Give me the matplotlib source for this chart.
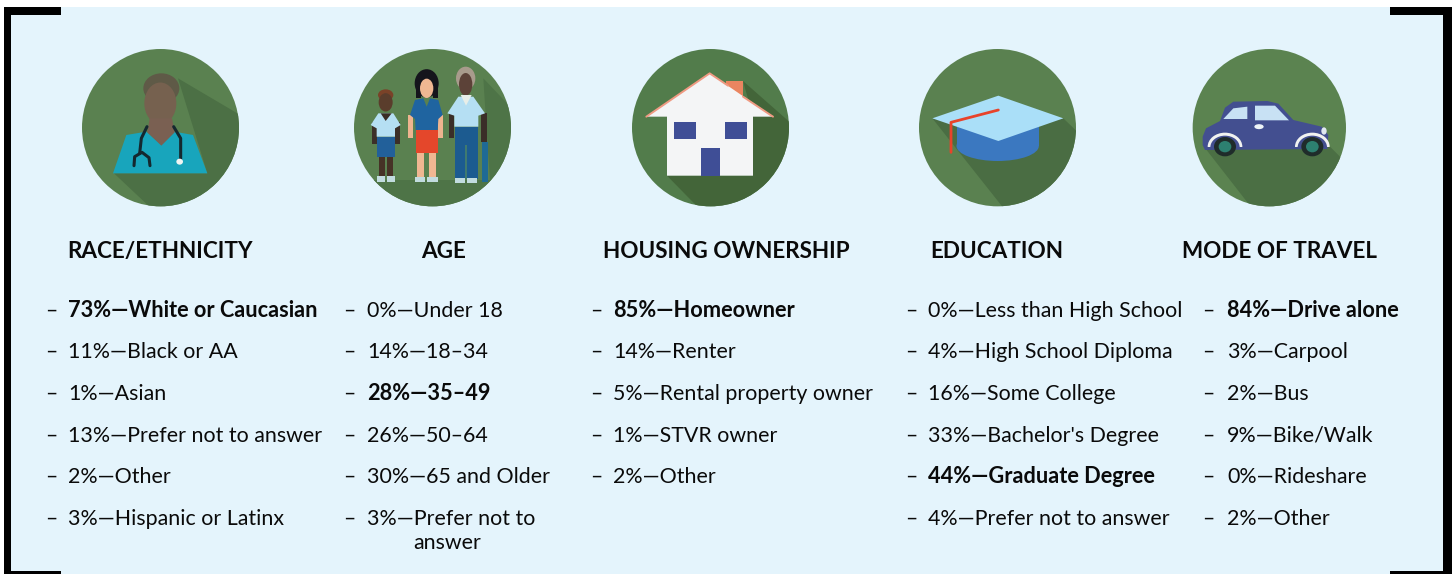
import matplotlib
matplotlib.use("Agg")
import matplotlib.pyplot as plt
from matplotlib.patches import Ellipse, Polygon, Rectangle

plt.rcParams['font.family'] = ['Lato', 'DejaVu Sans']

headings = ["RACE/ETHNICITY", "AGE", "HOUSING OWNERSHIP", "EDUCATION", "MODE OF TRAVEL"]

race = ["73%—White or Caucasian", "11%—Black or AA", "1%—Asian",
        "13%—Prefer not to answer", "2%—Other", "3%—Hispanic or Latinx"]
age = ["0%—Under 18", "14%—18–34", "28%—35–49", "26%—50–64", "30%—65 and Older",
       "3%—Prefer not to"]
housing = ["85%—Homeowner", "14%—Renter", "5%—Rental property owner", "1%—STVR owner", "2%—Other"]
education = ["0%—Less than High School", "4%—High School Diploma", "16%—Some College",
             "33%—Bachelor's Degree", "44%—Graduate Degree", "4%—Prefer not to answer"]
travel = ["84%—Drive alone", "3%—Carpool", "2%—Bus", "9%—Bike/Walk", "0%—Rideshare", "2%—Other"]
columns = [race, age, housing, education, travel]
bold_rows = [0, 2, 0, 4, 0]

heading_x = [160, 444, 726, 997, 1280]
dash_x = [45, 343, 590, 905, 1202]
text_x = [68, 367, 613, 928, 1227]
row_y = [317, 358, 400, 442, 483, 525]

BG = "#e4f4fc"
GREEN = "#5a8150"
SHADOW = "#4b6f44"
INK = "#0a0a0a"


# icons are sketched on a 495x495 grid, one grid per disc
def grid(org, pts):
    return [(org + x / 3, 45 + y / 3) for x, y in pts]


def poly(ax, org, pts, color, z=5):
    p = Polygon(grid(org, pts), fc=color, ec='none', zorder=z)
    ax.add_patch(p)
    return p


def box(ax, org, x0, y0, x1, y1, color, z=5):
    ax.add_patch(Rectangle((org + x0 / 3, 45 + y0 / 3), (x1 - x0) / 3, (y1 - y0) / 3,
                           fc=color, ec='none', zorder=z))


def oval(ax, org, x, y, w, h, color, z=5):
    e = Ellipse((org + x / 3, 45 + y / 3), w / 3, h / 3, fc=color, ec='none', zorder=z)
    ax.add_patch(e)
    return e


def line(ax, org, pts, color, lw, z=6):
    g = grid(org, pts)
    ax.plot([p[0] for p in g], [p[1] for p in g], color=color, lw=lw, zorder=z,
            solid_capstyle='round', solid_joinstyle='round')


def disc(ax, org, shadow, base=GREEN, dark=SHADOW, cx=247.5, w=471):
    c = Ellipse((org + cx / 3, 45 + 248 / 3), w / 3, 472 / 3, fc=base, ec='none', zorder=2)
    ax.add_patch(c)
    poly(ax, org, shadow, dark, z=3).set_clip_path(c)


def nurse(ax, org):
    disc(ax, org, [(300, 100), (495, 215), (495, 495), (225, 495), (108, 385), (388, 385)], base="#5a8150", dark="#4c7045")
    poly(ax, org, [(105, 385), (145, 270), (205, 260), (250, 300), (290, 260), (345, 270), (388, 385)], "#18a5bc")
    oval(ax, org, 250, 130, 108, 90, "#5f5a47")
    oval(ax, org, 247, 175, 96, 125, "#76614f", z=6)
    poly(ax, org, [(215, 220), (282, 220), (290, 262), (250, 302), (208, 262)], "#7a6052", z=6)
    line(ax, org, [(207, 245), (190, 280), (185, 325)], "#14282f", 2.2, z=7)
    line(ax, org, [(168, 362), (170, 335), (192, 322), (213, 338), (216, 362)], "#14282f", 2.2, z=7)
    line(ax, org, [(287, 245), (308, 280), (308, 342)], "#14282f", 2.2, z=7)
    oval(ax, org, 305, 350, 20, 18, "#f1f5f3", z=7)


def family(ax, org):
    disc(ax, org, [(400, 100), (495, 200), (495, 495), (60, 495), (60, 405), (420, 405), (410, 260)], base="#5a8150", dark="#4e7447")
    # child
    oval(ax, org, 107, 150, 46, 34, "#7a4228")
    oval(ax, org, 107, 172, 42, 55, "#5a3d2c", z=6)
    box(ax, org, 66, 230, 80, 298, "#3c2f28")
    box(ax, org, 136, 230, 150, 298, "#3c2f28")
    box(ax, org, 86, 335, 105, 396, "#463226")
    box(ax, org, 112, 335, 130, 396, "#463226")
    poly(ax, org, [(62, 240), (85, 205), (130, 205), (152, 240), (135, 250), (135, 275), (80, 275), (80, 250)], "#b5dff3", z=6)
    poly(ax, org, [(92, 205), (125, 205), (107, 228)], "#3a2c26", z=7)
    box(ax, org, 80, 275, 135, 337, "#22609a", z=6)
    box(ax, org, 80, 394, 106, 410, "#c2dcdf", z=6)
    box(ax, org, 110, 394, 136, 410, "#c2dcdf", z=6)
    # woman
    oval(ax, org, 230, 115, 72, 85, "#15151c")
    box(ax, org, 197, 120, 212, 160, "#15151c")
    box(ax, org, 250, 120, 264, 160, "#15151c")
    oval(ax, org, 230, 130, 40, 58, "#f0b792", z=6)
    box(ax, org, 175, 210, 190, 280, "#eeb48f")
    box(ax, org, 265, 210, 280, 280, "#eeb48f")
    box(ax, org, 200, 320, 222, 397, "#f0b792")
    box(ax, org, 236, 320, 258, 397, "#f0b792")
    poly(ax, org, [(180, 210), (195, 165), (220, 160), (230, 185), (240, 160), (265, 165), (278, 210), (265, 222), (263, 255), (197, 255), (195, 222)],
         "#1f64a0", z=6)
    box(ax, org, 197, 255, 263, 325, "#e4472b", z=6)
    box(ax, org, 195, 395, 225, 412, "#c2dcdf", z=6)
    box(ax, org, 232, 395, 263, 412, "#c2dcdf", z=6)
    # man
    oval(ax, org, 347, 100, 58, 70, "#a89b8c")
    oval(ax, org, 347, 118, 40, 68, "#5c4238", z=6)
    box(ax, org, 392, 205, 410, 290, "#3a2e28")
    box(ax, org, 296, 205, 312, 280, "#3a2e28")
    box(ax, org, 396, 290, 414, 410, "#1f6a95", z=4)
    poly(ax, org, [(292, 205), (325, 155), (370, 155), (405, 205), (385, 212), (385, 245), (313, 245), (313, 212)], "#b5dff3", z=6)
    poly(ax, org, [(332, 150), (365, 150), (348, 182)], "#e8eee8", z=7)
    box(ax, org, 315, 245, 383, 402, "#1c5b90", z=6)
    box(ax, org, 345, 300, 352, 402, "#3f7a70", z=7)
    box(ax, org, 315, 400, 345, 415, "#c2dcdf", z=6)
    box(ax, org, 352, 400, 382, 415, "#c2dcdf", z=6)


def house(ax, org):
    disc(ax, org, [(345, 108), (495, 240), (495, 495), (218, 495), (117, 392), (375, 392), (375, 215)], base="#527c4b", dark="#436539")
    box(ax, org, 295, 108, 345, 175, "#ea8560", z=4)
    poly(ax, org, [(245, 85), (55, 215), (117, 215), (117, 392), (375, 392), (375, 215), (435, 215)], "#f4f5f6")
    line(ax, org, [(55, 215), (245, 85), (300, 122)], "#ef9a82", 1.4)
    line(ax, org, [(345, 155), (435, 215)], "#ef9a82", 1.4)
    box(ax, org, 137, 230, 203, 283, "#3f4e96", z=6)
    box(ax, org, 290, 230, 357, 283, "#3f4e96", z=6)
    box(ax, org, 218, 310, 275, 392, "#3f4e96", z=6)


def cap(ax, org):
    disc(ax, org, [(52, 220), (445, 220), (495, 268), (495, 495), (270, 495)], base="#5a8150", dark="#4a6d43")
    oval(ax, org, 248, 303, 247, 90, "#3b78c0")
    box(ax, org, 125, 225, 372, 303, "#3b78c0")
    poly(ax, org, [(52, 220), (250, 152), (445, 220), (250, 288)], "#aadff8", z=6)
    line(ax, org, [(250, 195), (108, 232), (108, 322)], "#e8432a", 2.0, z=7)


def car(ax, org):
    disc(ax, org, [(38, 300), (415, 300), (495, 380), (495, 495), (190, 495)], base="#5b8350", dark="#4b6f44", cx=238, w=460)
    poly(ax, org, [(38, 300), (38, 275), (48, 250), (90, 228), (105, 188), (130, 170), (232, 168), (265, 176), (310, 225),
                   (395, 245), (415, 270), (412, 312), (45, 315)], "#434f90")
    poly(ax, org, [(100, 222), (130, 190), (172, 185), (172, 222)], "#c8e1f4", z=6)
    poly(ax, org, [(195, 182), (255, 182), (297, 226), (195, 226)], "#c8e1f4", z=6)
    oval(ax, org, 207, 245, 28, 15, "#eef4f8", z=6)
    oval(ax, org, 402, 258, 16, 22, "#dfe8f0", z=6)
    for x in [105, 367]:
        # white arch over the wheel only, cut off at the sill
        ring = oval(ax, org, x, 305, 104, 84, "#f1f2f0", z=6)
        ring.set_clip_path(Rectangle((org + (x - 60) / 3, 45 + 250 / 3), 40, 55 / 3, transform=ax.transData))
        inner = oval(ax, org, x, 307, 88, 70, "#434f90", z=6)
        inner.set_clip_path(Rectangle((org + (x - 60) / 3, 45 + 250 / 3), 40, 55 / 3, transform=ax.transData))
        oval(ax, org, x, 305, 66, 58, "#1f2c2a", z=7)
        oval(ax, org, x, 305, 38, 34, "#2d8070", z=8)


def frame(ax):
    ax.add_patch(Rectangle((3.7, 7), 1439.3, 567, fc=BG, ec='none', zorder=1))
    bars = [(3.7, 7, 7.3, 567), (3.7, 7, 57, 8), (3.7, 570.7, 57, 3.3),
            (1443, 7, 9, 567), (1389.5, 7, 62.5, 8), (1389.5, 570.7, 62.5, 3.3)]
    for x, y, w, h in bars:
        ax.add_patch(Rectangle((x, y), w, h, fc="black", ec='none', zorder=2))


fig = plt.figure(figsize=(14.52, 5.74), dpi=100)
ax = fig.add_axes([0, 0, 1, 1])
ax.set_xlim(0, 1452)
ax.set_ylim(574, 0)
ax.axis('off')

frame(ax)
nurse(ax, 78)
family(ax, 350)
house(ax, 628)
cap(ax, 915)
car(ax, 1190)

for x, h in zip(heading_x, headings):
    ax.text(x, 258, h, ha='center', va='baseline', fontsize=16.2, fontweight='bold', color=INK)

for col, rows in enumerate(columns):
    for r, label in enumerate(rows):
        ax.text(dash_x[col], row_y[r], "–", va='baseline', fontsize=15.4, color=INK)
        if r == bold_rows[col]:
            ax.text(text_x[col], row_y[r], label, va='baseline', fontsize=15.7, fontweight='bold', color=INK)
        else:
            ax.text(text_x[col], row_y[r], label, va='baseline', fontsize=15.4, color=INK)
ax.text(413, 549, "answer", va='baseline', fontsize=15.4, color=INK)

fig.savefig("out.png", dpi=100)
